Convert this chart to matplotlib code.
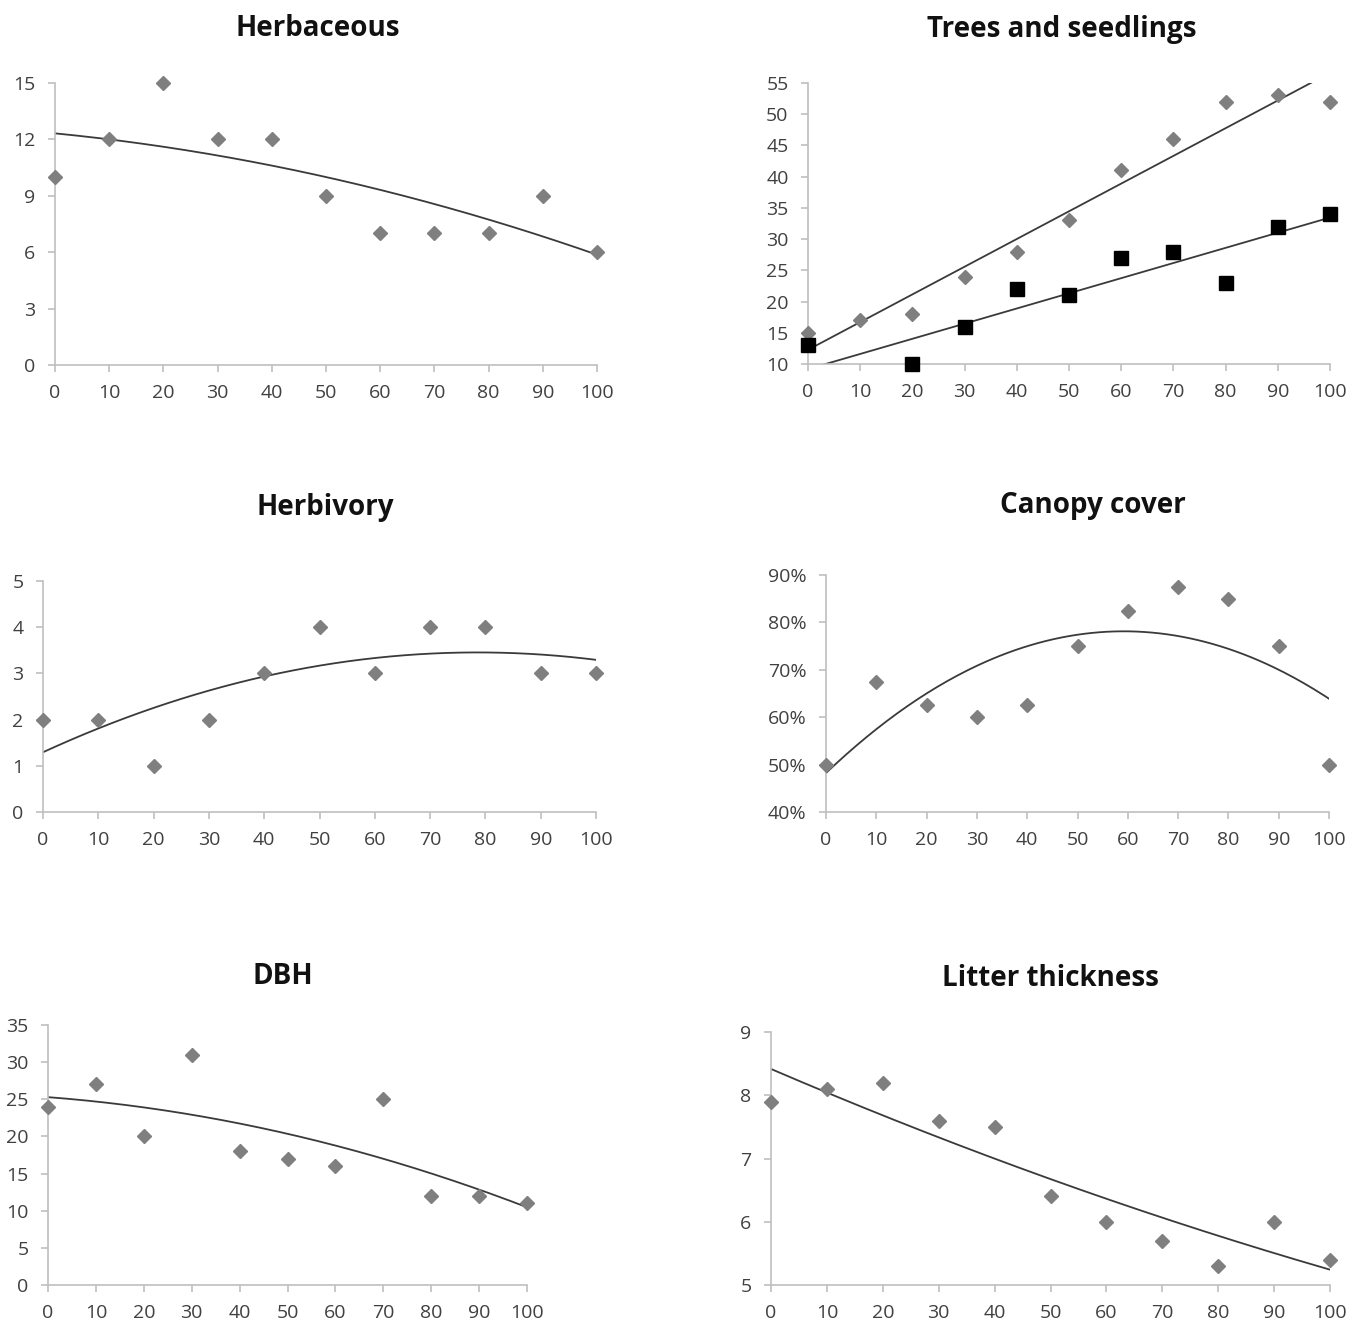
import numpy as np
import matplotlib
matplotlib.use('Agg')
import matplotlib.pyplot as plt
from matplotlib.ticker import FuncFormatter

plt.rcParams['font.family'] = ['Open Sans', 'DejaVu Sans']

W, H = 1361, 1323
x = np.arange(0, 101, 10)

herbaceous = [10, 12, 15, 12, 12, 9, 7, 7, 7, 9, 6]
trees = [15, 17, 18, 24, 28, 33, 41, 46, 52, 53, 52]
# x=10 seedling value sits below the axis minimum (hidden), estimated from trend
seedlings = [13, 8.5, 10, 16, 22, 21, 27, 28, 23, 32, 34]
herbivory = [2, 2, 1, 2, 3, 4, 3, 4, 4, 3, 3]
canopy = [0.50, 0.675, 0.625, 0.60, 0.625, 0.75, 0.825, 0.875, 0.85, 0.75, 0.50]
dbh = [24, 27, 20, 31, 18, 17, 16, 25, 12, 12, 11]
litter = [7.9, 8.1, 8.2, 7.6, 7.5, 6.4, 6.0, 5.7, 5.3, 6.0, 5.4]

GREY = '#7f7f7f'
AXC = '#bfbfbf'
TXT = '#404040'

fig = plt.figure(figsize=(W / 100, H / 100), dpi=100)


def make_ax(l, r, b, t):
    # pixel box -> figure fraction
    ax = fig.add_axes([l / W, 1 - b / H, (r - l) / W, (b - t) / H])
    for s in ['top', 'right']:
        ax.spines[s].set_visible(False)
    for s in ['left', 'bottom']:
        ax.spines[s].set_color(AXC)
        ax.spines[s].set_linewidth(1.2)
    ax.tick_params(colors=AXC, labelcolor=TXT, labelsize=14, length=5, width=1.2)
    ax.tick_params(axis='x', pad=9)
    ax.tick_params(axis='y', pad=9)
    ax.set_xlim(0, 100)
    ax.set_xticks(x)
    return ax


def trend(ax, xs, ys, deg):
    c = np.polyfit(xs, ys, deg)
    xx = np.linspace(0, 100, 200)
    ax.plot(xx, np.polyval(c, xx), color='#3a3a3a', lw=1.3, zorder=2)


def dots(ax, xs, ys, lo, hi, **kw):
    xs = np.asarray(xs); ys = np.asarray(ys, dtype=float)
    m = (ys >= lo) & (ys <= hi)
    ax.plot(xs[m], ys[m], ls='none', clip_on=False, zorder=3, **kw)


def title(cx, cy, s):
    fig.text(cx / W, 1 - cy / H, s, ha='center', va='center', fontsize=20,
             fontweight='bold', color='#111111')


dia = dict(marker='D', ms=7.5, color=GREY, mec=GREY)

# Herbaceous
ax = make_ax(55, 597, 365, 83)
ax.set_ylim(0, 15)
ax.set_yticks([0, 3, 6, 9, 12, 15])
trend(ax, x, herbaceous, 2)
dots(ax, x, herbaceous, 0, 15, **dia)
title(318, 29, 'Herbaceous')

# Trees and seedlings
ax = make_ax(808, 1330, 364, 83)
ax.set_ylim(10, 55)
ax.set_yticks(range(10, 56, 5))
trend(ax, x, trees, 1)
trend(ax, x, seedlings, 1)
dots(ax, x, trees, 10, 55, **dia)
dots(ax, x, seedlings, 10, 55, marker='s', ms=10, color='black')
title(1062, 29, 'Trees and seedlings')

# Herbivory
ax = make_ax(43, 596, 812, 581)
ax.set_ylim(0, 5)
ax.set_yticks(range(0, 6))
trend(ax, x, herbivory, 2)
dots(ax, x, herbivory, 0, 5, **dia)
title(325, 508, 'Herbivory')

# Canopy cover
ax = make_ax(826, 1329, 812, 575)
ax.set_ylim(0.4, 0.9)
ax.set_yticks(np.arange(0.4, 0.91, 0.1))
ax.yaxis.set_major_formatter(FuncFormatter(lambda v, p: '%d%%' % round(v * 100)))
trend(ax, x, canopy, 2)
dots(ax, x, canopy, 0.4, 0.9, **dia)
title(1093, 506, 'Canopy cover')

# DBH
ax = make_ax(48, 527, 1285, 1025)
ax.set_ylim(0, 35)
ax.set_yticks(range(0, 36, 5))
trend(ax, x, dbh, 2)
dots(ax, x, dbh, 0, 35, **dia)
title(283, 976, 'DBH')

# Litter thickness
ax = make_ax(771, 1330, 1285, 1032)
ax.set_ylim(5, 9)
ax.set_yticks(range(5, 10))
trend(ax, x, litter, 2)
dots(ax, x, litter, 5, 9, **dia)
title(1050, 979, 'Litter thickness')

fig.savefig('out.png', dpi=100)
